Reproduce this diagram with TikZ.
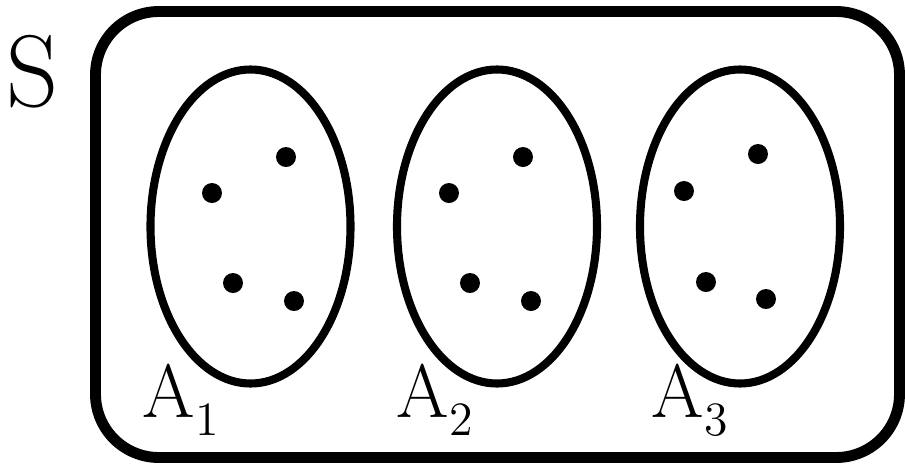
\documentclass[tikz,border=0pt]{standalone}
\usetikzlibrary{positioning}

% set label with lowered index
\newcommand{\setname}[1]{A\raisebox{-0.24em}{\fontsize{13.6}{14}\selectfont #1}}

\begin{document}
\begin{tikzpicture}[x=0.01cm, y=-0.01cm,
    boxline/.style={line width=3.1pt, rounded corners=18pt},
    setline/.style={line width=2.3pt},
    elem/.style={fill=black},
    lbl/.style={inner sep=0pt, anchor=base west,
                font=\fontsize{21.5}{24}\selectfont}]

  \useasboundingbox (0,0) rectangle (905,463);

  % sample space
  \draw[boxline] (95.5,11.5) rectangle (899.5,457.5);
  \node[lbl, font=\fontsize{29}{32}\selectfont] (S) at (6,106) {S};

  % the three sets
  \foreach \cx in {250.5, 497, 740}
    \draw[setline] (\cx,226.5) ellipse [x radius=100, y radius=157];

  % elements
  \foreach \px/\py in {286/157, 212/193, 233/283, 294/301,
                       523/157, 449/193, 470/283, 531/301,
                       758/154, 684/191, 706/282, 766/299}
    \fill[elem] (\px,\py) circle [radius=10];

  \node[lbl] (A1) at (142,417) {\setname{1}};
  \node[lbl] (A2) at (396,417) {\setname{2}};
  \node[lbl] (A3) at (651,417) {\setname{3}};
\end{tikzpicture}
\end{document}
